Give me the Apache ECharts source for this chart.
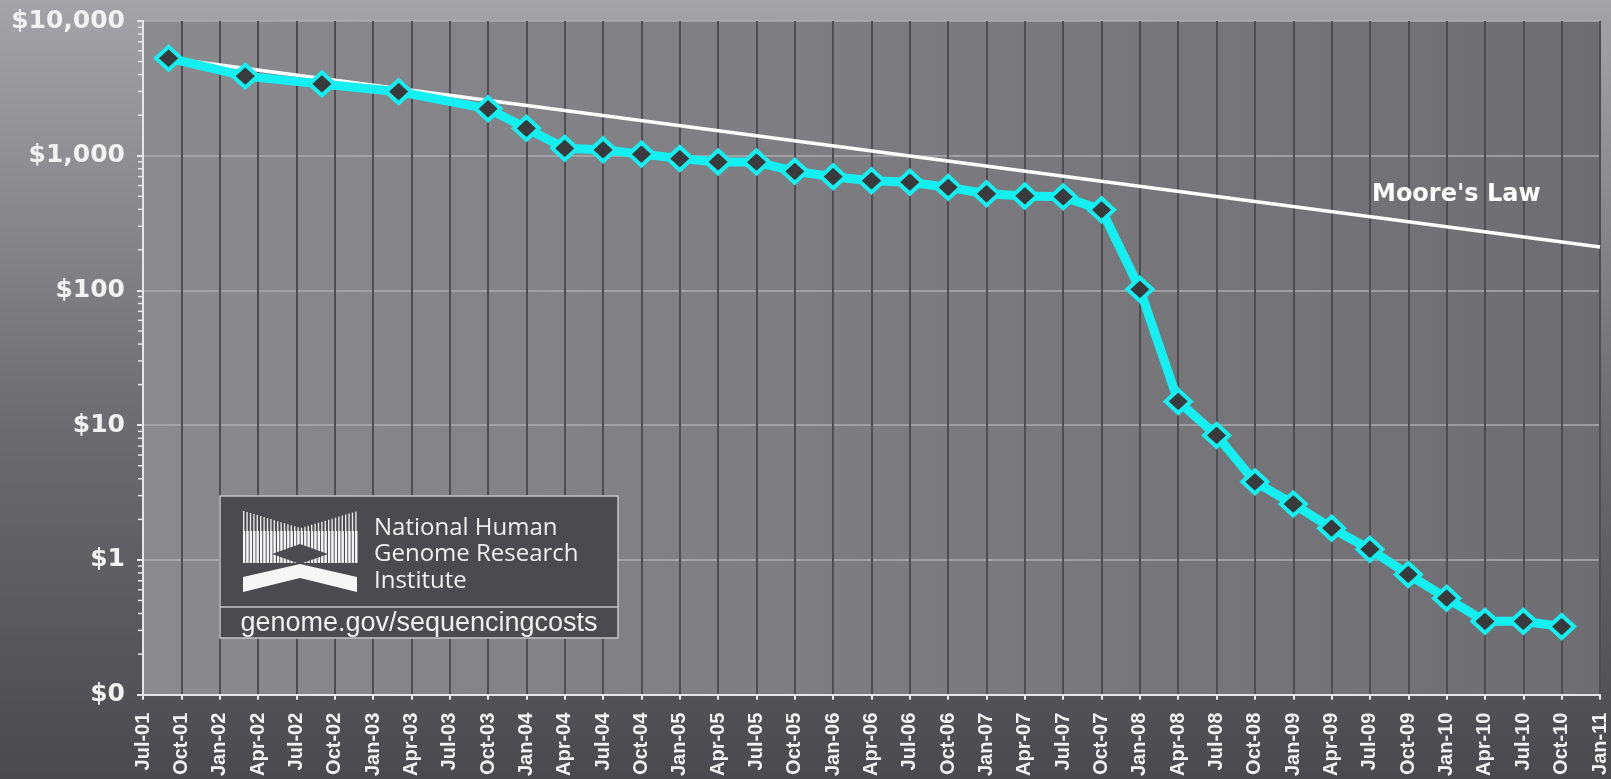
<!DOCTYPE html>
<html>
<head>
<meta charset="utf-8">
<script src="https://cdn.jsdelivr.net/npm/echarts@6/dist/echarts.min.js"></script>
<style>
html,body{margin:0;padding:0;background:#6a6a6e;}
#chart{width:1611px;height:779px;}
</style>
</head>
<body>
<div id="chart"></div>
<script>
// ---- data ----
const xTickLabels = ['Jul-01','Oct-01','Jan-02','Apr-02','Jul-02','Oct-02','Jan-03','Apr-03','Jul-03','Oct-03',
  'Jan-04','Apr-04','Jul-04','Oct-04','Jan-05','Apr-05','Jul-05','Oct-05','Jan-06','Apr-06','Jul-06','Oct-06',
  'Jan-07','Apr-07','Jul-07','Oct-07','Jan-08','Apr-08','Jul-08','Oct-08','Jan-09','Apr-09','Jul-09','Oct-09',
  'Jan-10','Apr-10','Jul-10','Oct-10','Jan-11'];
const yTickLabels = ['$0','$1','$10','$100','$1,000','$10,000'];
const yTickValues = [0.1, 1, 10, 100, 1000, 10000];

const costDates = ['Sep-01','Mar-02','Sep-02','Mar-03','Oct-03','Jan-04','Apr-04','Jul-04','Oct-04','Jan-05',
  'Apr-05','Jul-05','Oct-05','Jan-06','Apr-06','Jul-06','Oct-06','Jan-07','Apr-07','Jul-07','Oct-07','Jan-08',
  'Apr-08','Jul-08','Oct-08','Jan-09','Apr-09','Jul-09','Oct-09','Jan-10','Apr-10','Jul-10','Oct-10'];
const costValues = [5292, 3898, 3413, 2987, 2230, 1598, 1135, 1107, 1028, 953,
  899, 898, 766, 699, 652, 636, 582, 522, 503, 495, 397, 102,
  15.0, 8.4, 3.8, 2.6, 1.72, 1.20, 0.78, 0.52, 0.35, 0.35, 0.32];

const mooreDates = ['Sep-01','Jan-11'];
const mooreValues = [5292, 210];
const mooreLabel = "Moore's Law";

const logoLines = ['National Human', 'Genome Research', 'Institute'];
const logoUrl = 'genome.gov/sequencingcosts';

// ---- helpers ----
const MONTHS = ['Jan','Feb','Mar','Apr','May','Jun','Jul','Aug','Sep','Oct','Nov','Dec'];
function monthOffset(s){
  const [m, y] = s.split('-');
  return (2000 + parseInt(y,10) - 2001) * 12 + MONTHS.indexOf(m) - 6;
}
const costData = costDates.map((d,i)=>[monthOffset(d), costValues[i]]);
const mooreData = mooreDates.map((d,i)=>[monthOffset(d), mooreValues[i]]);
const xMax = (xTickLabels.length - 1) * 3;

const chart = echarts.init(document.getElementById('chart'), null, {renderer:'canvas'});
const CYAN = '#14f0f2';
const AXIS = '#e6e6e8';

const option = {
  animation: false,
  backgroundColor: {type:'linear', x:0, y:0, x2:0, y2:1, colorStops:[
    {offset:0, color:'#a4a4a8'}, {offset:0.55, color:'#6c6c70'}, {offset:1, color:'#4a4a4e'}]},
  grid: {left:143, right:11, top:21, bottom:83, show:true, borderWidth:0,
    backgroundColor:{type:'linear', x:0, y:0, x2:1, y2:0, colorStops:[
      {offset:0, color:'#8b8b8f'}, {offset:1, color:'#6e6e72'}]}},
  xAxis: {
    type:'value', min:0, max:xMax, interval:3,
    axisLine:{show:true, onZero:false, lineStyle:{color:AXIS, width:2}},
    axisTick:{show:true, length:5, lineStyle:{color:AXIS, width:2}},
    splitLine:{show:true, lineStyle:{color:'#4e4e52', width:2}},
    axisLabel:{
      rotate:90, margin:18, color:'#f2f2f2', fontFamily:'Liberation Sans, Arial', fontWeight:'bold', fontSize:20,
      formatter: v => xTickLabels[Math.round(v/3)] || ''
    }
  },
  yAxis: {
    type:'log', logBase:10, min:0.1, max:10000,
    axisLine:{show:true, lineStyle:{color:AXIS, width:2}},
    axisTick:{show:true, length:6, lineStyle:{color:AXIS, width:2}},
    splitLine:{show:true, lineStyle:{color:'#acacb0', width:1.5}},
    axisLabel:{
      margin:18, color:'#f2f2f2', fontFamily:'DejaVu Sans', fontWeight:'bold', fontSize:25,
      formatter: v => {
        const i = yTickValues.findIndex(t => Math.abs(Math.log10(t) - Math.log10(v)) < 1e-6);
        return i >= 0 ? yTickLabels[i] : '';
      }
    }
  },
  series: [
    {
      name:"Moore's Law", type:'line', data:mooreData, symbol:'none', z:2,
      lineStyle:{color:'#ffffff', width:3.5}
    },
    {
      name:'Cost per Mb', type:'line', data:costData, z:3,
      symbol:'diamond', symbolSize:[25,23],
      lineStyle:{color:CYAN, width:9, join:'round', cap:'round'},
      itemStyle:{color:'#3a3a3c', borderColor:CYAN, borderWidth:4}
    }
  ]
};
chart.setOption(option);

// minor log ticks on y axis and logo / annotation graphics
const axisX = chart.convertToPixel({xAxisIndex:0}, 0);
const graphics = [];
for (let e = -1; e < 4; e++) {
  for (let k = 2; k <= 9; k++) {
    const y = chart.convertToPixel({yAxisIndex:0}, k * Math.pow(10, e));
    graphics.push({type:'line', shape:{x1:axisX-5, y1:y, x2:axisX, y2:y}, style:{stroke:AXIS, lineWidth:1.5}, silent:true, z:10});
  }
}
graphics.push({type:'text', left:1372, top:183, z:20,
  style:{text:mooreLabel, fill:'#ffffff', font:'bold 24px "DejaVu Sans"'}});

// NHGRI logo box
const bx = 220, by = 496, bw = 398, bh = 142, divY = 607;
const logoChildren = [
  {type:'rect', shape:{x:bx, y:by, width:bw, height:bh}, style:{fill:'#4b4b4f', stroke:'#c4c4c8', lineWidth:1.5}},
  {type:'line', shape:{x1:bx, y1:divY, x2:bx+bw, y2:divY}, style:{stroke:'#c4c4c8', lineWidth:1.5}},
  {type:'text', x:bx+bw/2, y:(divY+by+bh)/2+1, style:{text:logoUrl, fill:'#f0f0f0', font:'27px "Liberation Sans"', align:'center', verticalAlign:'middle'}}
];
logoChildren.push(...logoLines.map((t,i)=>({type:'text', x:374, y:528 + i*26.5,
  style:{text:t, fill:'#f0f0f0', font:'24px "Open Sans"', verticalAlign:'middle'}})));
// icon: striped upper arms, denser middle band, dark diamond, solid lower chevrons
const icL = 243, icR = 357, icC = 300;
for (let x = icL; x <= icR; x += 3.4) {
  const t = 1 - Math.abs(x - icC) / (icC - icL);
  const top = 511 + 17 * t;
  logoChildren.push({type:'rect', shape:{x:x, y:top, width:1.4, height:563-top}, style:{fill:'#e8e8e8'}});
  logoChildren.push({type:'rect', shape:{x:x, y:531, width:2.3, height:32}, style:{fill:'#f6f6f6'}});
}
logoChildren.push({type:'polygon', shape:{points:[[272,554],[300,544],[328,554],[300,564]]}, style:{fill:'#4b4b4f'}});
logoChildren.push({type:'polygon', shape:{points:[[icL,577],[icC,564],[icC,578],[icL,592]]}, style:{fill:'#f6f6f6'}});
logoChildren.push({type:'polygon', shape:{points:[[icR,577],[icC,564],[icC,578],[icR,592]]}, style:{fill:'#f6f6f6'}});
graphics.push({type:'group', z:30, children:logoChildren});

chart.setOption({graphic: graphics});
</script>
</body>
</html>
